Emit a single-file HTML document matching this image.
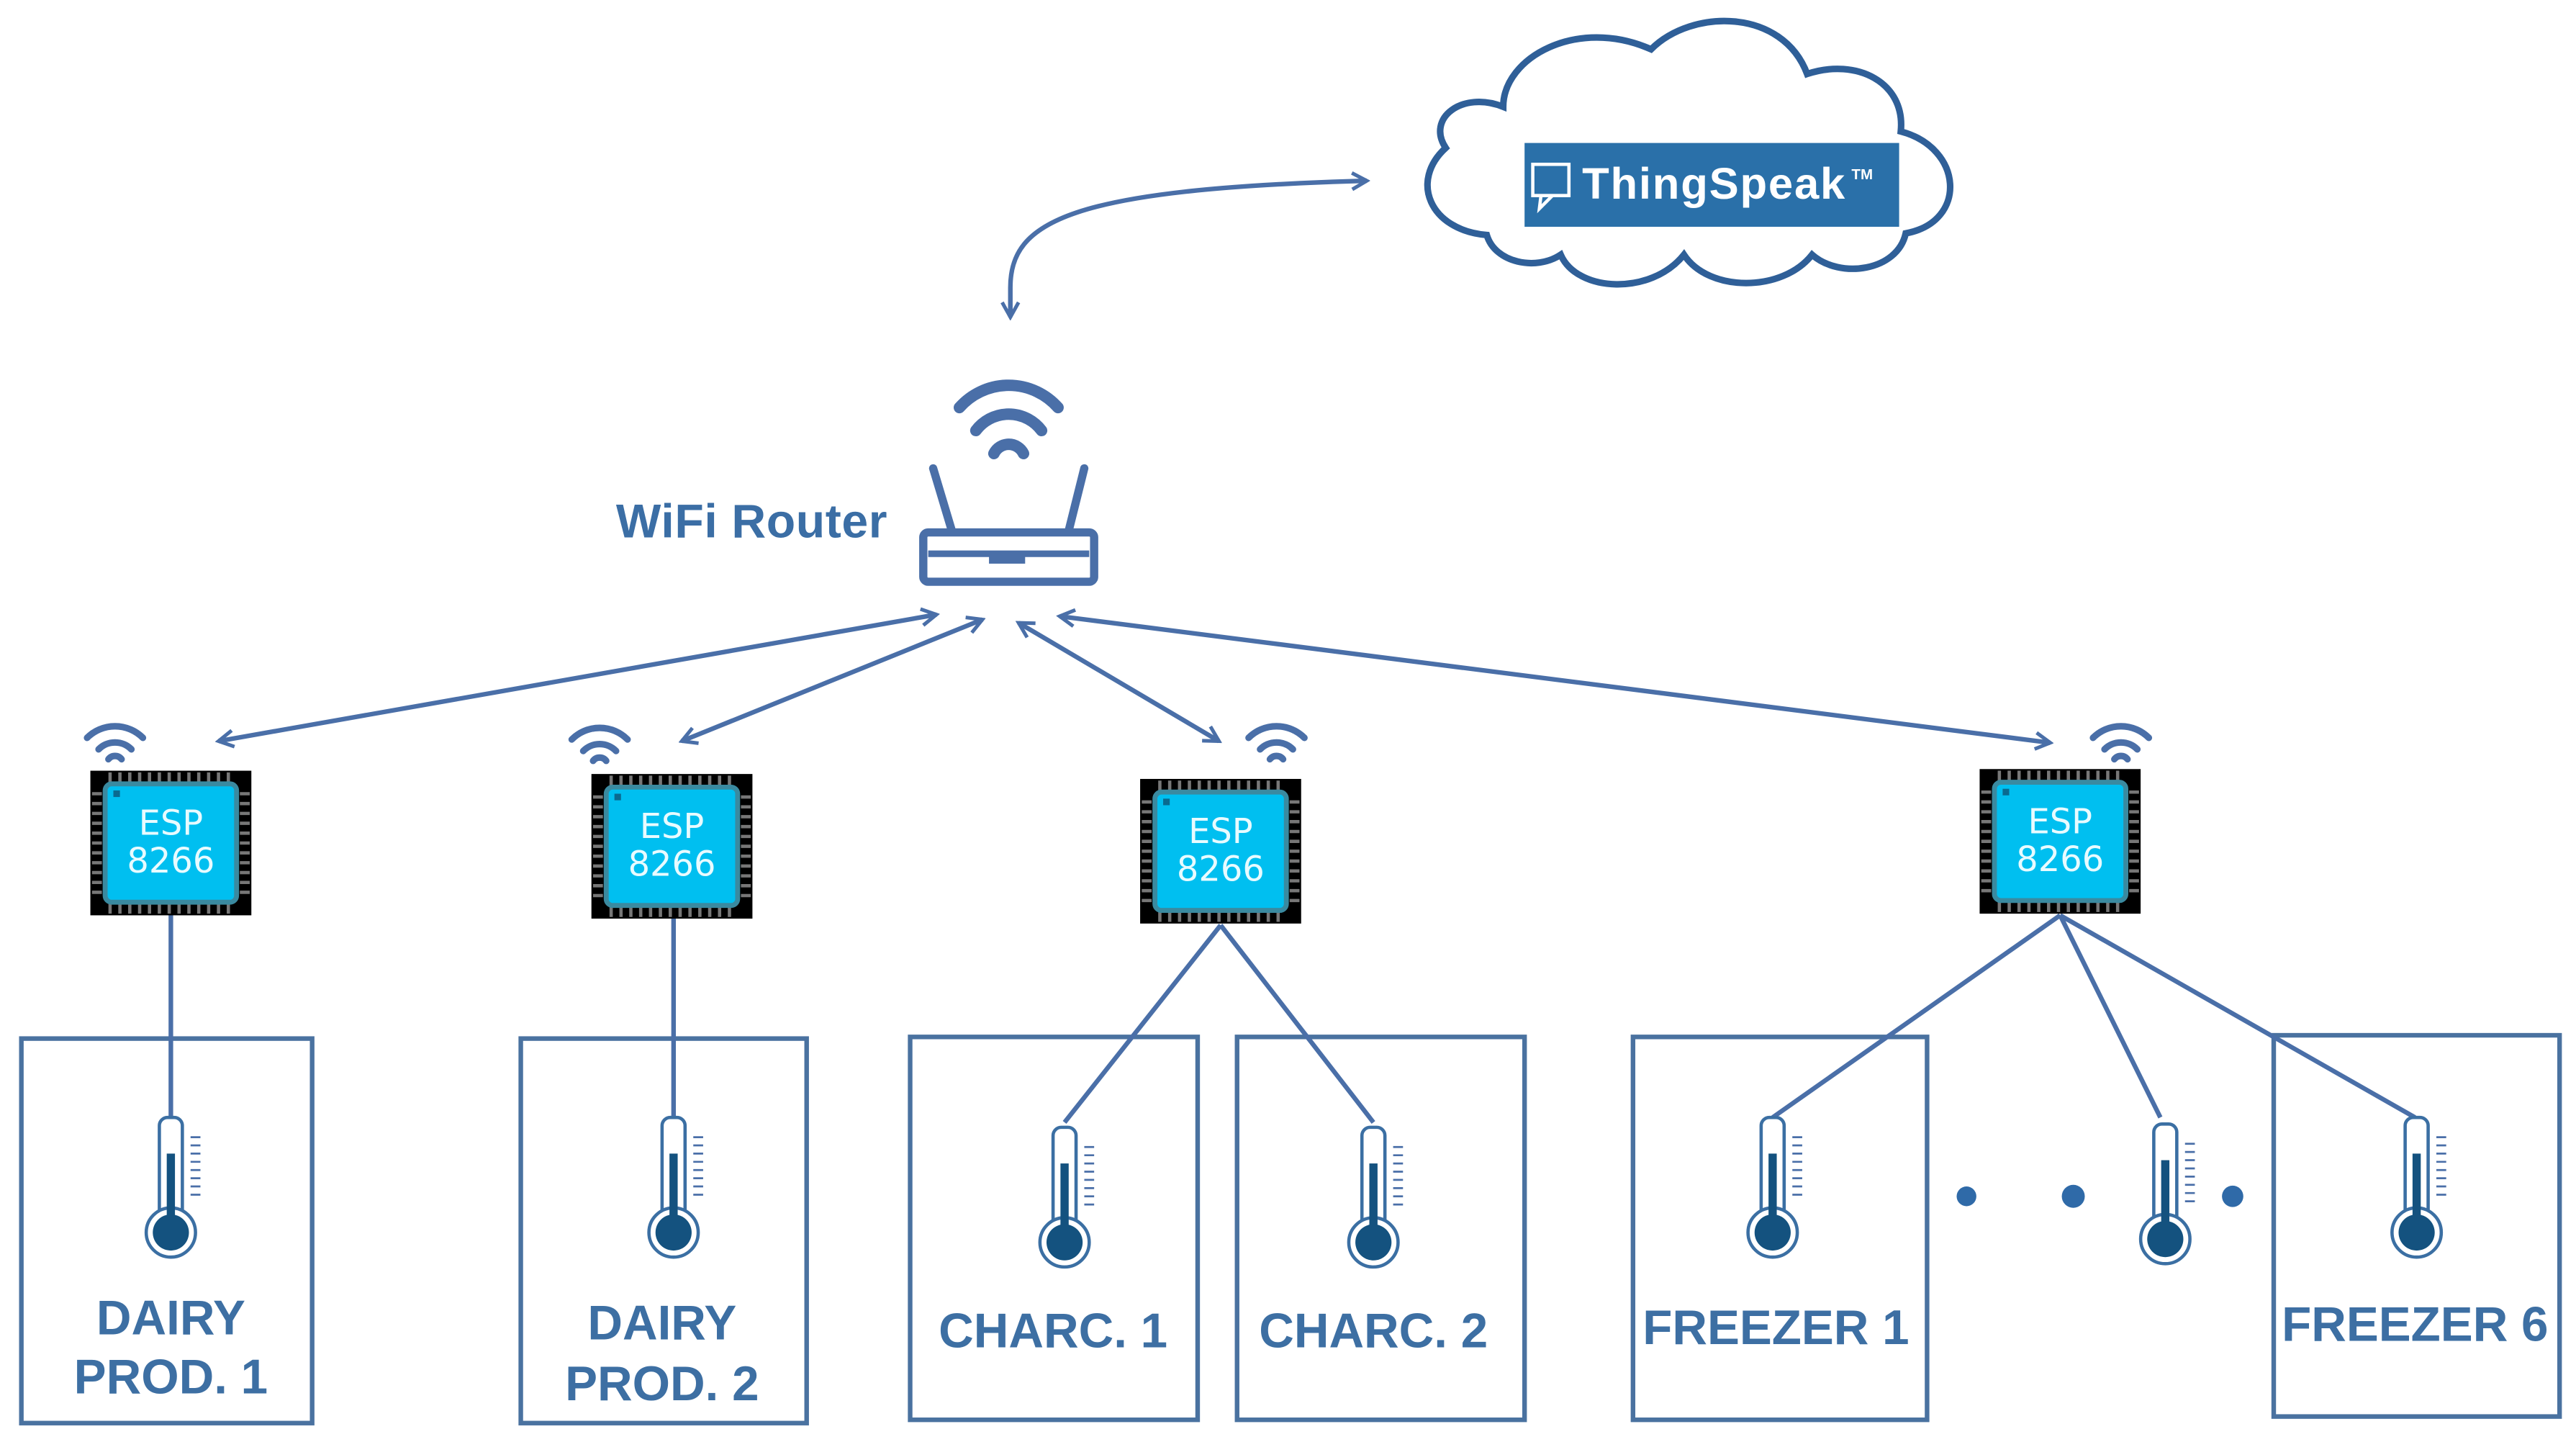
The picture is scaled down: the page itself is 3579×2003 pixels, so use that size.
<!DOCTYPE html>
<html><head><meta charset="utf-8"><style>
html,body{margin:0;padding:0;background:#fff;width:3579px;height:2003px;overflow:hidden}
svg{display:block}
text{font-family:"Liberation Sans",Arial,sans-serif;font-weight:bold}
</style></head><body>
<svg width="3579" height="2003" viewBox="0 0 1568 877.5" preserveAspectRatio="none" xmlns="http://www.w3.org/2000/svg">
<defs>
<marker id="ah" viewBox="0 0 12 12" refX="10" refY="6" markerWidth="12" markerHeight="12" markerUnits="userSpaceOnUse" orient="auto-start-reverse">
<path d="M1,1 L10,6 L1,11" fill="none" stroke="#4a6fa8" stroke-width="2.2"/>
</marker>
<g id="chip">
<rect x="0" y="0" width="98" height="88" fill="#000"/>
<g stroke="#777" stroke-width="2">
<path d="M12,1v6 M18,1v6 M24,1v6 M30,1v6 M36,1v6 M42,1v6 M48,1v6 M54,1v6 M60,1v6 M66,1v6 M72,1v6 M78,1v6 M84,1v6"/>
<path d="M12,81v6 M18,81v6 M24,81v6 M30,81v6 M36,81v6 M42,81v6 M48,81v6 M54,81v6 M60,81v6 M66,81v6 M72,81v6 M78,81v6 M84,81v6"/>
<path d="M1,14h6 M1,20h6 M1,26h6 M1,32h6 M1,38h6 M1,44h6 M1,50h6 M1,56h6 M1,62h6 M1,68h6 M1,74h6"/>
<path d="M91,14h6 M91,20h6 M91,26h6 M91,32h6 M91,38h6 M91,44h6 M91,50h6 M91,56h6 M91,62h6 M91,68h6 M91,74h6"/>
</g>
<rect x="9" y="8" width="80" height="72" rx="4" fill="#00bff0" stroke="#3a8aa0" stroke-width="3"/>
<rect x="14" y="12" width="4" height="4" fill="#0a6a90"/>
<text x="49" y="39" font-size="21" fill="#e8fbff" text-anchor="middle" style="font-family:'DejaVu Sans',sans-serif;font-weight:normal">ESP</text>
<text x="49" y="62" font-size="21" fill="#e8fbff" text-anchor="middle" style="font-family:'DejaVu Sans',sans-serif;font-weight:normal">8266</text>
</g>
<g id="wifi" fill="none" stroke="#4a6fa8" stroke-linecap="round">
<path d="M-17,-6 A24,24 0 0 1 17,-6" stroke-width="4"/>
<path d="M-10,1 A14,14 0 0 1 10,1" stroke-width="4"/>
<path d="M-4,7 A5,5 0 0 1 4,7" stroke-width="4"/>
</g>
<g id="therm">
<rect x="-7" y="0" width="14" height="62" rx="5" fill="#fff" stroke="#3b6fa3" stroke-width="2"/>
<circle cx="0" cy="70" r="15" fill="#fff" stroke="#3b6fa3" stroke-width="2"/>
<rect x="-2.5" y="22" width="5" height="48" fill="#14527f"/>
<circle cx="0" cy="70" r="11" fill="#14527f"/>
<g stroke="#4a6fa8" stroke-width="1.2">
<path d="M12,12h6 M12,17h6 M12,22h6 M12,27h6 M12,32h6 M12,37h6 M12,42h6 M12,47h6"/>
</g>
</g>
</defs>

<path d="M905,143 C870,140 858,110 880,90 C868,72 890,55 915,65 C915,35 960,10 1005,30 C1030,5 1085,5 1100,45 C1130,35 1160,50 1157,80 C1195,90 1198,135 1160,142 C1155,165 1120,170 1103,155 C1085,178 1040,178 1025,155 C1005,180 960,178 950,155 C935,165 910,160 905,143 Z" fill="#fff" stroke="#2f5f98" stroke-width="4"/>
<rect x="928" y="87" width="228" height="51" fill="#2a70a9"/>
<rect x="933" y="100" width="22" height="19" fill="none" stroke="#fff" stroke-width="2"/>
<path d="M938,119 L937,127 L945,119" fill="none" stroke="#fff" stroke-width="2"/>
<text x="963" y="121" font-size="27" fill="#fff" textLength="160">ThingSpeak</text>
<text x="1127" y="109" font-size="9" fill="#fff">TM</text>

<path d="M615,193 L615,175 C615,135 650,115 832,110" fill="none" stroke="#4a6fa8" stroke-width="2.8" marker-start="url(#ah)" marker-end="url(#ah)"/>

<g fill="none" stroke="#4a6fa8" stroke-linecap="round">
<path d="M584,248 A40,40 0 0 1 644,248" stroke-width="7"/>
<path d="M594,262 A25,25 0 0 1 634,262" stroke-width="7"/>
<path d="M605,276 A10,10 0 0 1 623,276" stroke-width="7"/>
</g>
<path d="M568,285 L580,325 M660,285 L650,325" stroke="#4a6fa8" stroke-width="5" stroke-linecap="round"/>
<rect x="562" y="324" width="104" height="30" rx="3" fill="#fff" stroke="#4a6fa8" stroke-width="5"/>
<path d="M565,337 H663" stroke="#4a6fa8" stroke-width="4"/>
<rect x="602" y="337" width="22" height="6" fill="#4a6fa8"/>
<text x="375" y="327" font-size="29" fill="#3b6ea5" textLength="165">WiFi Router</text>

<g stroke="#4a6fa8" stroke-width="2.8" fill="none">
<path d="M570,374 L133,451" marker-start="url(#ah)" marker-end="url(#ah)"/>
<path d="M598,377 L415,451" marker-start="url(#ah)" marker-end="url(#ah)"/>
<path d="M620,379 L742,451" marker-start="url(#ah)" marker-end="url(#ah)"/>
<path d="M645,375 L1248,452" marker-start="url(#ah)" marker-end="url(#ah)"/>
</g>

<use href="#wifi" x="70" y="455"/>
<use href="#wifi" x="365" y="456"/>
<use href="#wifi" x="777" y="455"/>
<use href="#wifi" x="1291" y="455"/>

<g fill="none" stroke="#4a72a0" stroke-width="2.8">
<rect x="13" y="632" width="177" height="234"/>
<rect x="317" y="632" width="174" height="234"/>
<rect x="554" y="631" width="175" height="233"/>
<rect x="753" y="631" width="175" height="233"/>
<rect x="994" y="631" width="179" height="233"/>
<rect x="1384" y="630" width="174" height="232"/>
</g>

<g stroke="#4a6fa8" stroke-width="2.8">
<path d="M104,556 L104,682"/>
<path d="M410,558 L410,682"/>
<path d="M743,563 L648,683 M743,563 L836,683"/>
<path d="M1254,557 L1079,680 M1254,557 L1315,680 M1254,557 L1470,680"/>
</g>

<use href="#chip" x="55" y="469"/>
<use href="#chip" x="360" y="471"/>
<use href="#chip" x="694" y="474"/>
<use href="#chip" x="1205" y="468"/>

<use href="#therm" x="104" y="680"/>
<use href="#therm" x="410" y="680"/>
<use href="#therm" x="648" y="686"/>
<use href="#therm" x="836" y="686"/>
<use href="#therm" x="1079" y="680"/>
<use href="#therm" x="1318" y="684"/>
<use href="#therm" x="1471" y="680"/>

<g fill="#2f6aa8">
<circle cx="1197" cy="728" r="6"/>
<circle cx="1262" cy="728" r="7"/>
<circle cx="1359" cy="728" r="6.5"/>
</g>

<g font-size="29.5" fill="#3d6fa3" text-anchor="middle">
<text x="104" y="812">DAIRY</text>
<text x="104" y="848">PROD. 1</text>
<text x="403" y="815">DAIRY</text>
<text x="403" y="852">PROD. 2</text>
<text x="641" y="820">CHARC. 1</text>
<text x="836" y="820">CHARC. 2</text>
<text x="1081" y="818">FREEZER 1</text>
<text x="1470" y="816">FREEZER 6</text>
</g>
</svg>
</body></html>
